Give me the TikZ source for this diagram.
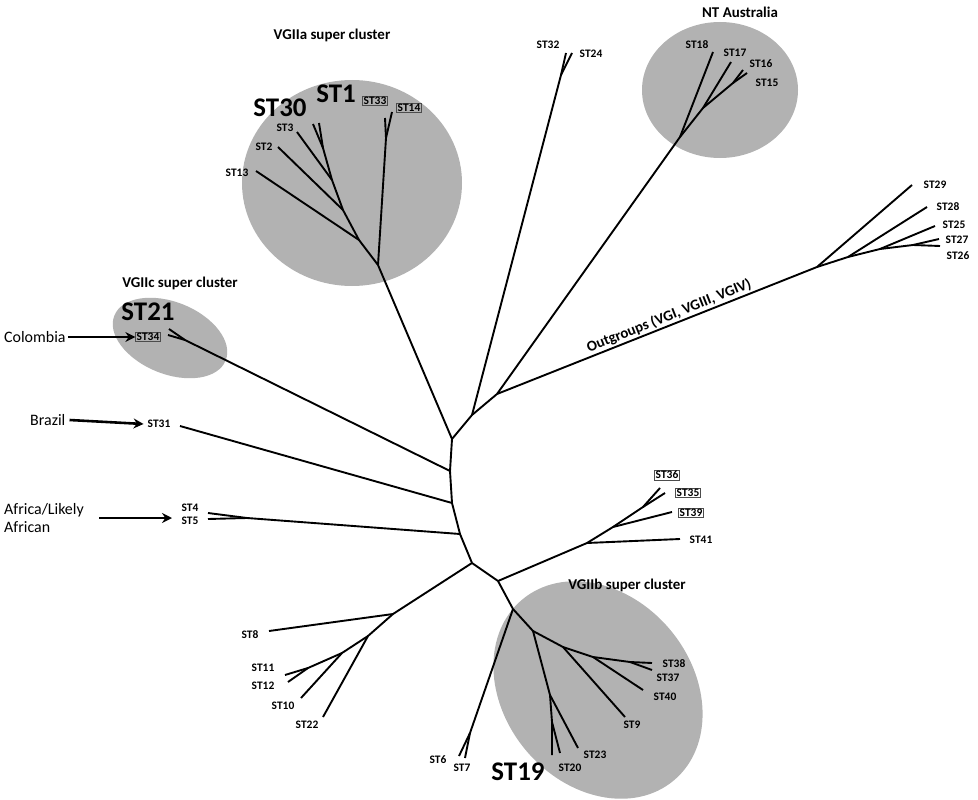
\documentclass[tikz,border=0pt]{standalone}
\usepackage{fontspec}
\setmainfont{Carlito}
\usetikzlibrary{arrows.meta}
\begin{document}
\begin{tikzpicture}[x=1bp,y=-1bp,
  br/.style={line width=1.9pt,line join=round},
  lab/.style={font=\bfseries\fontsize{11.5}{13}\selectfont,inner sep=0pt},
  blab/.style={font=\bfseries\fontsize{27}{29}\selectfont,inner sep=0pt},
  bx/.style={lab,draw=black!70,line width=0.7pt,inner sep=1pt},
  ttl/.style={font=\bfseries\fontsize{15}{17}\selectfont,inner sep=0pt},
  ctry/.style={font=\fontsize{16}{19}\selectfont,inner sep=0pt},
  blob/.style={fill=black!30},
  arr/.style={line width=2.6pt,-{Stealth[length=10pt,width=10pt]}}]
\useasboundingbox (0,0) rectangle (978,800);
% clusters
\fill[blob] (352,183) ellipse [x radius=110,y radius=103];
\fill[blob] (720,90) ellipse [x radius=78,y radius=68];
\fill[blob,rotate around={-22:(170,338)}] (170,338) ellipse [x radius=60,y radius=36];
\fill[blob,rotate around={-50:(598,690)}] (598,690) ellipse [x radius=118,y radius=94];
% backbone coordinates
\coordinate (A) at (452,439); \coordinate (B) at (450,471); \coordinate (C) at (452,503);
\coordinate (D) at (460,534); \coordinate (E) at (472,563); \coordinate (F) at (498,581);
\coordinate (G) at (513,609); \coordinate (up1) at (472,415); \coordinate (up2) at (497,394);
\draw[br] (A)--(B)--(C)--(D)--(E)--(F)--(G);
\draw[br] (A)--(up1)--(up2);
% VGIIa
\coordinate (a0) at (378,265); \coordinate (a1) at (359,240); \coordinate (a2) at (343,210);
\coordinate (a3) at (332,180); \coordinate (a4) at (323,148); \coordinate (a5) at (386,138);
\node[lab] (st13) at (237,173) {ST13}; \node[lab] (st2) at (264,147) {ST2};
\node[lab] (st3) at (285,128) {ST3};
\node[blab] (st30) at (280,108) {ST30}; \node[blab] (st1) at (336,94) {ST1};
\node[bx] (st33) at (375,101) {ST33}; \node[bx] (st14) at (409,108) {ST14};
\draw[br] (A)--(a0)--(a1)--(a2)--(a3)--(a4);
\draw[br] (a1)--(256,171); \draw[br] (a2)--(278,147); \draw[br] (a3)--(297,132);
\draw[br] (a4)--(313,124); \draw[br] (a4)--(319,123);
\draw[br] (a0)--(a5)--(385,118); \draw[br] (a5)--(392,112);
\node[ttl] at (332,35) {VGIIa super cluster};
% ST32/24
\coordinate (b1) at (561,75);
\draw[br] (up1)--(b1)--(566,53); \draw[br] (b1)--(572,53);
\node[lab] (st32) at (548,45) {ST32}; \node[lab] (st24) at (591,54) {ST24};
% NT Australia
\coordinate (n1) at (680,137); \coordinate (n2) at (703,108); \coordinate (n3) at (733,83);
\draw[br] (up2)--(n1)--(713,52); \draw[br] (n1)--(n2)--(731,62); \draw[br] (n2)--(n3)--(743,70); \draw[br] (n3)--(747,73);
\node[lab] (st18) at (697,45) {ST18}; \node[lab] (st17) at (735,53) {ST17};
\node[lab] (st16) at (761,64) {ST16}; \node[lab] (st15) at (767,83) {ST15};
\node[ttl] at (740,12) {NT Australia};
% Outgroups
\coordinate (o1) at (817,267); \coordinate (o2) at (848,257); \coordinate (o3) at (880,249); \coordinate (o4) at (913,245);
\draw[br] (up2)--(o1)--(912,185); \draw[br] (o1)--(o2)--(927,207); \draw[br] (o2)--(o3)--(935,226);
\draw[br] (o3)--(o4)--(939,239); \draw[br] (o4)--(940,246);
\node[lab] at (935,185) {ST29}; \node[lab] at (948,207) {ST28}; \node[lab] at (954,225) {ST25};
\node[lab] at (957,240) {ST27}; \node[lab] at (958,256) {ST26};
\node[font=\bfseries\fontsize{15}{17}\selectfont,rotate=21.8,inner sep=0pt] at (669,316) {Outgroups (VGI, VGIII, VGIV)};
% VGIIc
\coordinate (c1) at (185,340);
\draw[br] (B)--(c1)--(169,329); \draw[br] (c1)--(168,335);
\node[blab] (st21) at (148,312) {ST21}; \node[bx] (st34) at (148,337) {ST34};
\node[ttl] at (180,283) {VGIIc super cluster};
\node[ctry,anchor=west] (col) at (4,337) {Colombia};
\draw[arr] ([xshift=2pt]col.east) -- (st34.west);
% Brazil
\draw[br] (C)--(180,426);
\node[lab] (st31) at (159,424) {ST31};
\node[ctry,anchor=west] (bra) at (30,420) {Brazil};
\draw[arr] ([xshift=4pt]bra.east) -- ([xshift=-4pt]st31.west);
% Africa
\coordinate (d1) at (247,518);
\draw[br] (D)--(d1)--(208,513); \draw[br] (d1)--(208,519);
\node[lab] (st4) at (190,508) {ST4}; \node[lab] (st5) at (190,521) {ST5};
\node[ctry,anchor=west,align=left] (afr) at (4,518) {Africa/Likely\\African};
\draw[arr] (99,518) -- (172,518);
% left lower group
\coordinate (l1) at (393,614); \coordinate (l2) at (368,636); \coordinate (l3) at (342,653); \coordinate (l4) at (308,668);
\draw[br] (E)--(l1)--(269,631); \draw[br] (l1)--(l2)--(323,717); \draw[br] (l2)--(l3)--(301,698);
\draw[br] (l3)--(l4)--(285,675); \draw[br] (l4)--(288,682);
\node[lab] at (250,635) {ST8}; \node[lab] at (263,668) {ST11}; \node[lab] at (263,686) {ST12};
\node[lab] at (283,706) {ST10}; \node[lab] at (307,725) {ST22};
% right group ST41
\coordinate (r1) at (587,543); \coordinate (r2) at (613,527); \coordinate (r3) at (643,507);
\draw[br] (F)--(r1)--(680,539); \draw[br] (r1)--(r2)--(672,512); \draw[br] (r2)--(r3)--(660,488); \draw[br] (r3)--(665,493);
\node[bx] at (667,475) {ST36}; \node[bx] at (688,493) {ST35}; \node[bx] at (691,513) {ST39};
\node[lab] at (701,540) {ST41};
% VGIIb
\coordinate (h) at (533,631); \coordinate (i) at (550,695); \coordinate (j) at (552,722);
\coordinate (k) at (563,647); \coordinate (l) at (593,657); \coordinate (m) at (630,662);
\coordinate (g6) at (470,733);
\draw[br] (G)--(g6)--(459,756); \draw[br] (g6)--(465,758);
\draw[br] (G)--(h)--(i)--(j)--(552,755); \draw[br] (j)--(560,753); \draw[br] (i)--(578,748);
\draw[br] (h)--(k)--(625,717); \draw[br] (k)--(l)--(643,690); \draw[br] (l)--(m)--(652,663); \draw[br] (m)--(652,670);
\node[lab] at (438,760) {ST6}; \node[lab] at (462,768) {ST7};
\node[blab] at (518,772) {ST19}; \node[lab] at (570,768) {ST20}; \node[lab] at (595,755) {ST23};
\node[lab] at (632,725) {ST9}; \node[lab] at (665,697) {ST40}; \node[lab] at (668,678) {ST37};
\node[lab] at (674,664) {ST38};
\node[ttl] at (627,585) {VGIIb super cluster};
\end{tikzpicture}
\end{document}
